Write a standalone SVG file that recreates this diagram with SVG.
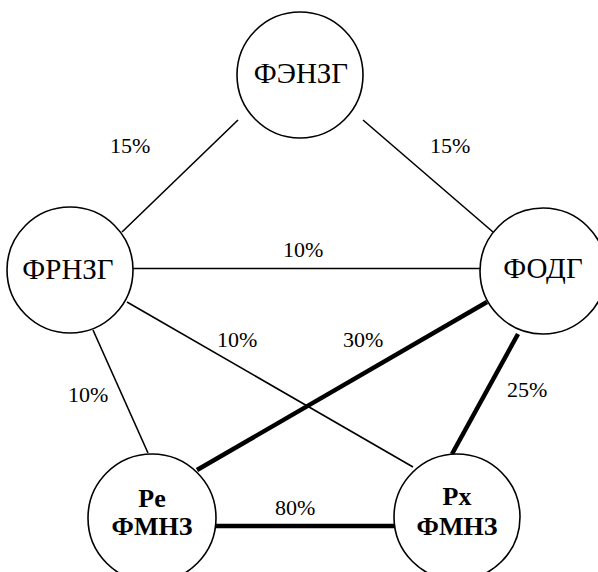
<svg xmlns="http://www.w3.org/2000/svg" width="598" height="572" viewBox="0 0 598 572">
<style>
.node{fill:#fff;stroke:#000;stroke-width:1.6}
.thin{stroke:#000;stroke-width:1.6;fill:none}
.thick{stroke:#000;stroke-width:4.5;fill:none}
.nt{font-size:29px;text-anchor:middle}
.bt{font-size:26px;font-weight:bold;text-anchor:middle}
.lb{font-size:22px}
</style>
<rect width="598" height="572" fill="#fff"/>
<g id="connectors" font-family="Liberation Serif, Times New Roman, serif">
<line class="thin" x1="122" y1="232" x2="238" y2="120"/>
<line class="thin" x1="363" y1="120" x2="493" y2="232"/>
<line class="thin" x1="133" y1="268.5" x2="480" y2="268.5"/>
<line class="thin" x1="127" y1="302" x2="413" y2="467"/>
<line class="thin" x1="93" y1="330" x2="148" y2="453"/>
<line class="thick" x1="487" y1="302" x2="197" y2="470"/>
<line class="thick" x1="518" y1="334" x2="452" y2="454"/>
<line class="thick" x1="215" y1="526" x2="395" y2="526"/>
<text class="lb" x="110" y="153">15%</text>
<text class="lb" x="430" y="153">15%</text>
<text class="lb" x="283" y="257">10%</text>
<text class="lb" x="217" y="347">10%</text>
<text class="lb" x="343" y="347">30%</text>
<text class="lb" x="68" y="402">10%</text>
<text class="lb" x="507" y="397">25%</text>
<text class="lb" x="275" y="515">80%</text>
</g>
<g id="fenzg" font-family="Liberation Serif, Times New Roman, serif">
<circle class="node" cx="300" cy="75" r="63"/>
<text class="nt" x="301" y="83">ФЭНЗГ</text>
</g>
<g id="frnzg" font-family="Liberation Serif, Times New Roman, serif">
<circle class="node" cx="70" cy="270" r="63"/>
<text class="nt" x="68" y="279">ФРНЗГ</text>
</g>
<g id="fodg" font-family="Liberation Serif, Times New Roman, serif">
<circle class="node" cx="543" cy="271" r="63"/>
<text class="nt" x="543" y="278">ФОДГ</text>
</g>
<g id="pe-fmnz" font-family="Liberation Serif, Times New Roman, serif">
<circle class="node" cx="152" cy="518" r="64"/>
<text class="bt" x="152" y="507">Pe</text>
<text class="bt" x="152" y="535">ФМНЗ</text>
</g>
<g id="px-fmnz" font-family="Liberation Serif, Times New Roman, serif">
<circle class="node" cx="457" cy="517" r="63"/>
<text class="bt" x="457" y="505">Px</text>
<text class="bt" x="457" y="535">ФМНЗ</text>
</g>
</svg>
